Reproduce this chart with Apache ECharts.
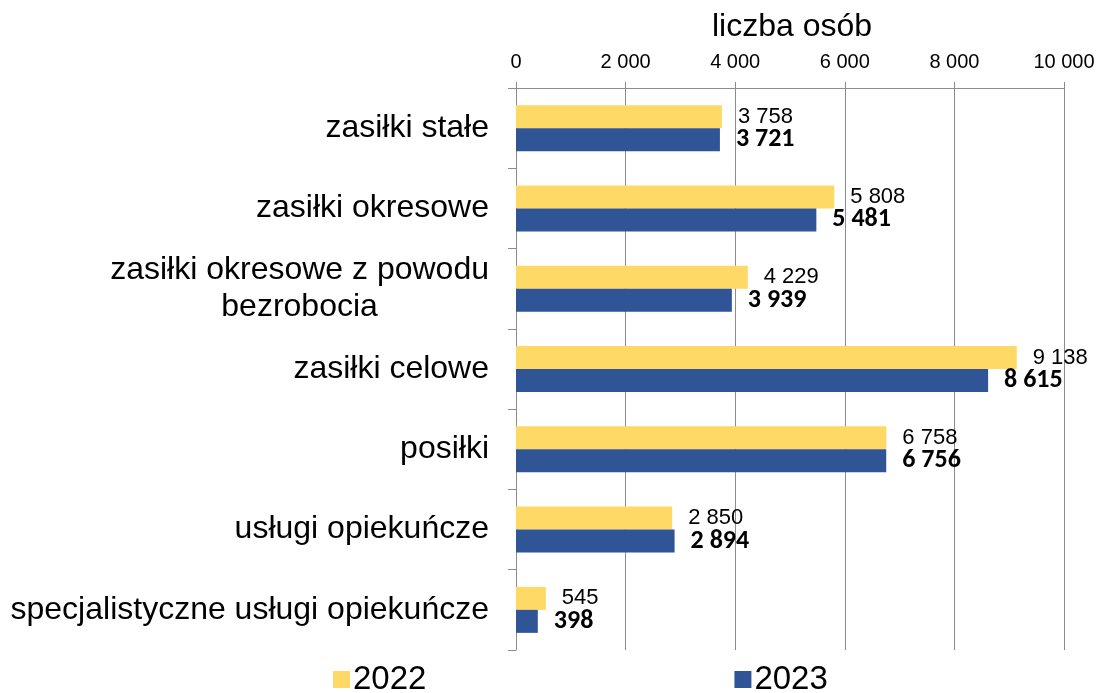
<!DOCTYPE html>
<html>
<head>
<meta charset="utf-8">
<script src="https://cdn.jsdelivr.net/npm/echarts@6/dist/echarts.min.js"></script>
<style>
  html, body { margin: 0; padding: 0; background: #fff; }
  #chart { width: 1098px; height: 693px; }
</style>
</head>
<body>
<div id="chart"></div>
<script>
let categories = [
    'zasiłki stałe',
    'zasiłki okresowe',
    'zasiłki okresowe z powodu\nbezrobocia',
    'zasiłki celowe',
    'posiłki',
    'usługi opiekuńcze',
    'specjalistyczne usługi opiekuńcze'
];
let values2022 = [3758, 5808, 4229, 9138, 6758, 2850, 545];
let values2023 = [3721, 5481, 3939, 8615, 6756, 2894, 398];
let xTicks = [0, 2000, 4000, 6000, 8000, 10000];

function fmt(v) {
    return String(v).replace(/\B(?=(\d{3})+(?!\d))/g, ' ');
}

let myChart = echarts.init(document.getElementById('chart'));

let option = {
    animation: false,
    color: ['#FFD966', '#2F5597'],
    title: {
        text: 'liczba osób',
        left: 787,
        textAlign: 'center',
        top: 6,
        textStyle: { fontFamily: 'Liberation Sans, Arial', fontSize: 32, fontWeight: 'normal', color: '#000' }
    },
    legend: {
        data: ['2022', '2023'],
        left: 328,
        top: 658,
        itemWidth: 17,
        itemHeight: 17,
        itemGap: 308,
        icon: 'rect',
        textStyle: { fontFamily: 'Liberation Sans, Arial', fontSize: 33, color: '#000', padding: [0, 0, 0, -2] }
    },
    grid: { left: 516, top: 88, width: 548, height: 562 },
    xAxis: {
        type: 'value',
        position: 'top',
        min: xTicks[0],
        max: xTicks[xTicks.length - 1],
        interval: 2000,
        axisLine: { show: true, lineStyle: { color: '#8c8c8c' } },
        axisTick: { show: true, length: 6, lineStyle: { color: '#8c8c8c' } },
        splitLine: { show: true, lineStyle: { color: '#8c8c8c' } },
        axisLabel: {
            margin: 16,
            fontFamily: 'Liberation Sans, Arial',
            fontSize: 20,
            color: '#000',
            formatter: function (v) { return fmt(v); }
        }
    },
    yAxis: {
        type: 'category',
        inverse: true,
        data: categories,
        axisLine: { show: true, lineStyle: { color: '#8c8c8c' } },
        axisTick: { show: true, length: 8, lineStyle: { color: '#8c8c8c' } },
        axisLabel: {
            margin: 27,
            fontFamily: 'Liberation Sans, Arial',
            fontSize: 32,
            color: '#000',
            lineHeight: 37,
            formatter: function (v) {
                let parts = v.split('\n');
                if (parts.length > 1) {
                    return '{a|' + parts[0] + '}\n{c|' + parts[1] + '}';
                }
                return v;
            },
            rich: {
                a: { fontFamily: 'Liberation Sans, Arial', fontSize: 32, color: '#000', align: 'right', lineHeight: 37 },
                c: { fontFamily: 'Liberation Sans, Arial', fontSize: 32, color: '#000', align: 'center', lineHeight: 37 }
            }
        }
    },
    series: [{
        name: '2022',
        type: 'bar',
        data: values2022,
        barWidth: 23,
        barGap: 0,
        label: {
            show: true,
            position: 'right',
            distance: 16,
            fontFamily: 'Liberation Sans, Arial',
            fontSize: 22,
            color: '#000',
            formatter: function (p) { return fmt(p.value); }
        }
    }, {
        name: '2023',
        type: 'bar',
        data: values2023,
        barWidth: 23,
        label: {
            show: true,
            position: 'right',
            distance: 16,
            fontFamily: 'Carlito, Lato, Liberation Sans',
            fontSize: 26,
            fontWeight: 'bold',
            color: '#000',
            formatter: function (p) { return fmt(p.value); }
        }
    }]
};

myChart.setOption(option);
</script>
</body>
</html>
